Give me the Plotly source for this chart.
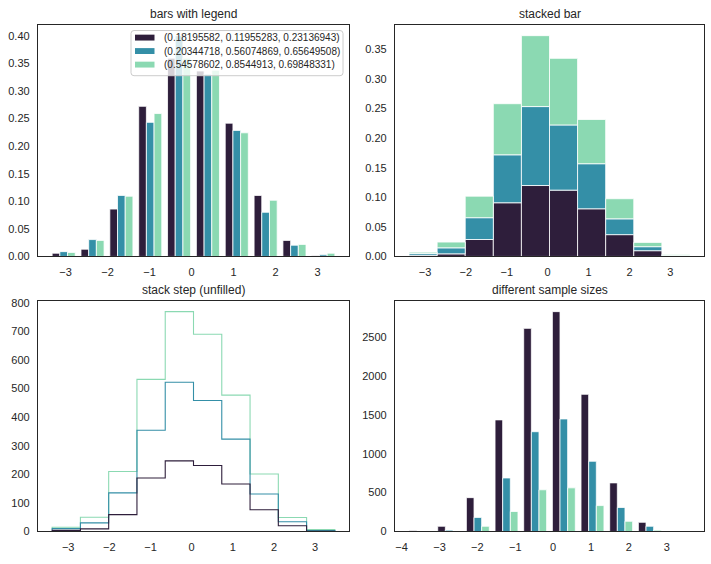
import plotly.graph_objects as go

# ---------------- data ----------------
colors = ["#2e1e3b", "#348fa7", "#8bd9b2"]
labels = ["(0.18195582, 0.11955283, 0.23136943)",
          "(0.20344718, 0.56074869, 0.65649508)",
          "(0.54578602, 0.8544913, 0.69848331)"]

# 1000-sample datasets (shared bins) -> used by top-left, top-right, bottom-left
bin_edges = [-3.39, -2.703, -2.016, -1.329, -0.642, 0.045, 0.732, 1.419, 2.106, 2.793, 3.48]
counts_a = [4, 9, 59, 187, 247, 231, 166, 76, 20, 1]
counts_b = [6, 21, 76, 167, 275, 227, 157, 55, 14, 2]
counts_c = [5, 20, 75, 178, 247, 232, 154, 70, 15, 4]

# different sample sizes (10000, 5000, 2000)
size_edges = [-3.88, -3.123, -2.366, -1.609, -0.852, -0.095, 0.662, 1.419, 2.176, 2.933, 3.69]
size_a = [8, 67, 435, 1435, 2612, 2827, 1764, 625, 118, 6]
size_b = [4, 17, 181, 688, 1283, 1447, 903, 308, 67, 6]
size_c = [2, 4, 67, 257, 536, 561, 333, 131, 17, 2]

titles = ["bars with legend", "stacked bar", "stack step (unfilled)", "different sample sizes"]

# ---------------- helpers ----------------
W, H = 711, 564
TXT = "#262626"
FONT = "Liberation Sans, Arial, sans-serif"
EDGE = dict(color="white", width=0.8)


def widths(edges):
    return [edges[i + 1] - edges[i] for i in range(len(edges) - 1)]


def centers(edges):
    return [(edges[i] + edges[i + 1]) / 2 for i in range(len(edges) - 1)]


def px(x):
    return x / W


def py(y):
    return 1 - y / H


fig = go.Figure()

# ---- top-left: grouped density bars ----
sets = [counts_a, counts_b, counts_c]
bw = widths(bin_edges)
bc = centers(bin_edges)
nx = len(sets)
tl_max = 0
for k, (cnt, col, lab) in enumerate(zip(sets, colors, labels)):
    tot = sum(cnt)
    dens = [c / tot / w for c, w in zip(cnt, bw)]
    tl_max = max(tl_max, max(dens))
    barw = [0.8 * w / nx for w in bw]
    xs = [c - 0.4 * w + (k + 0.5) * 0.8 * w / nx for c, w in zip(bc, bw)]
    fig.add_trace(go.Bar(x=xs, y=dens, width=barw, marker=dict(color=col, line=EDGE),
                         name=lab, showlegend=False, xaxis="x", yaxis="y"))

# ---- top-right: stacked density bars ----
grand = sum(sum(s) for s in sets)
base = [0.0] * len(bw)
for cnt, col in zip(sets, colors):
    dens = [c / grand / w for c, w in zip(cnt, bw)]
    fig.add_trace(go.Bar(x=bc, y=dens, base=list(base), width=bw,
                         marker=dict(color=col, line=EDGE),
                         showlegend=False, xaxis="x2", yaxis="y2"))
    base = [b + d for b, d in zip(base, dens)]
tr_max = max(base)

# ---- bottom-left: stacked step outlines ----
cum_prev = [0] * len(bw)
paths = []
for cnt, col in zip(sets, colors):
    cum = [p + c for p, c in zip(cum_prev, cnt)]
    xs = [bin_edges[0]]
    ys = [cum_prev[0]]
    for i in range(len(cnt)):
        xs += [bin_edges[i], bin_edges[i + 1]]
        ys += [cum[i], cum[i]]
    xs.append(bin_edges[-1])
    ys.append(cum_prev[-1])
    paths.append((xs, ys, col))
    cum_prev = cum
bl_max = max(cum_prev)
for xs, ys, col in reversed(paths):
    fig.add_trace(go.Scatter(x=xs, y=ys, mode="lines", line=dict(color=col, width=1.1),
                             showlegend=False, xaxis="x3", yaxis="y3", hoverinfo="skip"))

# ---- bottom-right: different sample sizes ----
sw = widths(size_edges)
sc = centers(size_edges)
ssets = [size_a, size_b, size_c]
br_max = 0
for k, (cnt, col) in enumerate(zip(ssets, colors)):
    br_max = max(br_max, max(cnt))
    barw = [0.8 * w / nx for w in sw]
    xs = [c - 0.4 * w + (k + 0.5) * 0.8 * w / nx for c, w in zip(sc, sw)]
    fig.add_trace(go.Bar(x=xs, y=cnt, width=barw, marker=dict(color=col, line=EDGE),
                         showlegend=False, xaxis="x4", yaxis="y4"))


# ---------------- axes ----------------
def xr_bars(edges):
    w0 = edges[1] - edges[0]
    lo, hi = edges[0] + 0.1 * w0, edges[-1] - 0.1 * w0
    m = 0.05 * (hi - lo)
    return [lo - m, hi + m]


def xr_full(edges):
    lo, hi = edges[0], edges[-1]
    m = 0.05 * (hi - lo)
    return [lo - m, hi + m]


def axis(domain, rng, **kw):
    d = dict(domain=domain, range=rng, showline=True, mirror=True, linecolor=TXT, linewidth=1.25,
             ticks="", showgrid=False, zeroline=False, fixedrange=True,
             tickfont=dict(size=11, color=TXT, family=FONT))
    d.update(kw)
    return d


xL = [px(38), px(349)]
xR = [px(395), px(704)]
yT = [py(257), py(21)]
yB = [py(537), py(302)]

fig.update_layout(
    width=W, height=H,
    margin=dict(l=0, r=0, t=0, b=0),
    paper_bgcolor="white", plot_bgcolor="white",
    barmode="overlay",
    showlegend=False,
    font=dict(family=FONT, color=TXT),
    xaxis=axis(xL, xr_bars(bin_edges), anchor="y", tickvals=[-3, -2, -1, 0, 1, 2, 3], ticklabelstandoff=5),
    yaxis=axis(yT, [0, tl_max * 1.05], anchor="x", dtick=0.05, tickformat=".2f", ticklabelstandoff=5),
    xaxis2=axis(xR, xr_full(bin_edges), anchor="y2", tickvals=[-3, -2, -1, 0, 1, 2, 3], ticklabelstandoff=5),
    yaxis2=axis(yT, [0, tr_max * 1.05], anchor="x2", dtick=0.05, tickformat=".2f", ticklabelstandoff=5),
    xaxis3=axis(xL, xr_full(bin_edges), anchor="y3", tickvals=[-3, -2, -1, 0, 1, 2, 3], ticklabelstandoff=5),
    yaxis3=axis(yB, [0, bl_max * 1.05], anchor="x3", dtick=100, ticklabelstandoff=5),
    xaxis4=axis(xR, xr_bars(size_edges), anchor="y4", tickvals=[-4, -3, -2, -1, 0, 1, 2, 3], ticklabelstandoff=5),
    yaxis4=axis(yB, [0, br_max * 1.05], anchor="x4", dtick=500, ticklabelstandoff=5),
)

doms = [(xL, yT), (xR, yT), (xL, yB), (xR, yB)]
for t, (xd, yd) in zip(titles, doms):
    fig.add_annotation(text=t, x=(xd[0] + xd[1]) / 2, y=yd[1], xref="paper", yref="paper",
                       xanchor="center", yanchor="bottom", yshift=2, showarrow=False,
                       font=dict(size=12, color=TXT, family=FONT))

# ---- legend for the "bars with legend" panel (frame, handles, labels) ----
L, R, T, B, r = 131, 343, 27, 73, 3
frame = (f"M {px(L + r)},{py(T)} L {px(R - r)},{py(T)} Q {px(R)},{py(T)} {px(R)},{py(T + r)} "
         f"L {px(R)},{py(B - r)} Q {px(R)},{py(B)} {px(R - r)},{py(B)} "
         f"L {px(L + r)},{py(B)} Q {px(L)},{py(B)} {px(L)},{py(B - r)} "
         f"L {px(L)},{py(T + r)} Q {px(L)},{py(T)} {px(L + r)},{py(T)} Z")
fig.add_shape(type="path", path=frame, xref="paper", yref="paper",
              fillcolor="rgba(255,255,255,0.8)", line=dict(color="#cccccc", width=1), layer="above")
row_y = [34.2, 47.9, 61.7]
for yc, col, lab in zip(row_y, colors, labels):
    fig.add_shape(type="rect", xref="paper", yref="paper", x0=px(135), x1=px(154.5),
                  y0=py(yc - 3), y1=py(yc + 3), fillcolor=col, line=dict(width=0), layer="above")
    fig.add_annotation(text=lab, x=px(162), y=py(yc), xref="paper", yref="paper",
                       xanchor="left", yanchor="middle", showarrow=False,
                       font=dict(size=10, color=TXT, family=FONT))

fig.write_html("out.html")
